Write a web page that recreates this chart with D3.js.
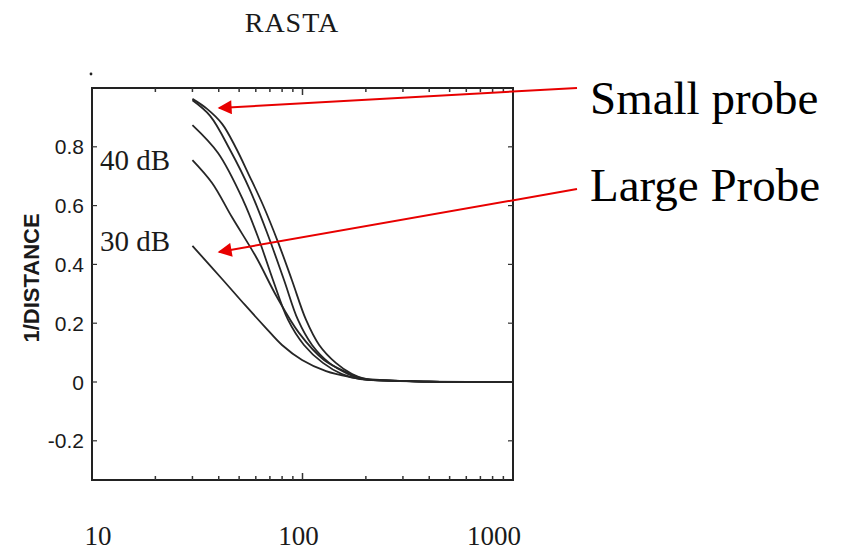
<!DOCTYPE html>
<html>
<head>
<meta charset="utf-8">
<script src="https://cdn.jsdelivr.net/npm/d3@7"></script>
<style>
  body { margin: 0; background: #fff; }
  svg { display: block; }
</style>
</head>
<body>
<div id="my_chart"></div>
<script>
// [frequency, 1/DISTANCE] points, one array per curve (top to bottom)
var curveA = [[30,0.963],[35.2,0.929],[41.5,0.878],[48.3,0.796],[55.7,0.704],[64.9,0.602],[76.5,0.476],[89,0.347],[104,0.211],[120,0.126],[144,0.065],[172,0.027],[200,0.010],[290,0.004],[400,0.001],[1000,0]];
var curveB = [[30,0.958],[36.4,0.905],[45.3,0.789],[56.3,0.653],[68.5,0.500],[81.7,0.347],[95.2,0.211],[111,0.126],[134,0.065],[165,0.027],[194,0.010],[290,0.004],[400,0.001],[1000,0]];
var curveC = [[30,0.874],[39.7,0.779],[52.2,0.619],[62.2,0.483],[72.4,0.347],[85.4,0.211],[101.6,0.126],[125,0.065],[154,0.027],[188,0.010],[290,0.004],[400,0.001],[1000,0]];
var curveD = [[30,0.755],[37.2,0.677],[46.2,0.561],[60.2,0.425],[75.6,0.289],[96.2,0.167],[126.5,0.075],[164.6,0.031],[188,0.014],[290,0.004],[400,0.001],[1000,0]];
var curveE = [[30,0.463],[41.9,0.347],[53.3,0.262],[66.4,0.187],[79.9,0.126],[99.5,0.075],[129.4,0.037],[168,0.017],[209,0.007],[290,0.003],[400,0.001],[1000,0]];

var yTicks = [-0.2, 0, 0.2, 0.4, 0.6, 0.8];
var yTickLabels = ["-0.2", "0", "0.2", "0.4", "0.6", "0.8"];
var xLabels = [10, 100, 1000];
var xMinor = [20, 30, 40, 50, 60, 70, 80, 90, 100, 200, 300, 400, 500, 600, 700, 800, 900];

var width = 842, height = 553;
var svg = d3.select("#my_chart").append("svg")
  .attr("width", width).attr("height", height);

var x = d3.scaleLog().domain([10, 1000]).range([92, 513]);
var y = d3.scaleLinear().domain([-1/3, 1]).range([480, 88]);

// title
svg.append("text").attr("x", 292).attr("y", 32).text("RASTA")
  .style("font-family", "Liberation Serif").style("font-size", "28px")
  .style("letter-spacing", "1px").attr("text-anchor", "middle").attr("fill", "#1a1a1a");

// stray dot top-left of the frame
svg.append("circle").attr("cx", 91).attr("cy", 74).attr("r", 1.4).attr("fill", "#222");

// frame
svg.append("rect").attr("x", x(10)).attr("y", y(1))
  .attr("width", x(1000) - x(10)).attr("height", y(-1/3) - y(1))
  .attr("fill", "none").attr("stroke", "#222").attr("stroke-width", 2);

// y ticks, inward on both sides
yTicks.forEach(function(t, i) {
  svg.append("line").attr("x1", x(10)).attr("x2", x(10) + 5).attr("y1", y(t)).attr("y2", y(t))
    .attr("stroke", "#333").attr("stroke-width", 1.2);
  svg.append("line").attr("x1", x(1000)).attr("x2", x(1000) - 5).attr("y1", y(t)).attr("y2", y(t))
    .attr("stroke", "#333").attr("stroke-width", 1.2);
  svg.append("text").attr("x", 84).attr("y", y(t)).text(yTickLabels[i])
    .attr("text-anchor", "end").attr("dominant-baseline", "central")
    .style("font-family", "Liberation Sans").style("font-size", "21px").attr("fill", "#1a1a1a");
});

// x ticks, inward top and bottom
xMinor.forEach(function(t) {
  var len = (t === 100) ? 7 : 4;
  svg.append("line").attr("x1", x(t)).attr("x2", x(t)).attr("y1", y(-1/3)).attr("y2", y(-1/3) - len)
    .attr("stroke", "#333").attr("stroke-width", 1.5);
  svg.append("line").attr("x1", x(t)).attr("x2", x(t)).attr("y1", y(1)).attr("y2", y(1) + len)
    .attr("stroke", "#333").attr("stroke-width", 1.5);
});

// x labels sit a little off their ticks in the original scan
var xLabelShift = {10: 6, 100: -4, 1000: -19};
xLabels.forEach(function(t) {
  svg.append("text").attr("x", x(t) + xLabelShift[t]).attr("y", 545).text(t)
    .attr("text-anchor", "middle")
    .style("font-family", "Liberation Serif").style("font-size", "27px").attr("fill", "#1a1a1a");
});

// y axis title
svg.append("text")
  .attr("transform", "translate(" + 39 + "," + 278 + ") rotate(-90)")
  .text("1/DISTANCE").attr("text-anchor", "middle")
  .style("font-family", "Liberation Sans").style("font-weight", "bold")
  .style("font-size", "22px").attr("fill", "#1a1a1a");

// curves
var line = d3.line()
  .x(function(d) { return x(d[0]); })
  .y(function(d) { return y(d[1]); })
  .curve(d3.curveCatmullRom.alpha(0.5));

[curveA, curveB, curveC, curveD, curveE].forEach(function(pts) {
  svg.append("path").datum(pts).attr("d", line)
    .attr("fill", "none").attr("stroke", "#262626").attr("stroke-width", 1.8);
});

// curve labels
svg.append("text").attr("x", 100).attr("y", 170).text("40 dB")
  .style("font-family", "Liberation Serif").style("font-size", "29px").attr("fill", "#1a1a1a");
svg.append("text").attr("x", 100).attr("y", 251).text("30 dB")
  .style("font-family", "Liberation Serif").style("font-size", "29px").attr("fill", "#1a1a1a");

// red annotation arrows
svg.append("defs").append("marker")
  .attr("id", "arrowHead").attr("viewBox", "0 0 10 10")
  .attr("refX", 9).attr("refY", 5)
  .attr("markerUnits", "userSpaceOnUse")
  .attr("markerWidth", 18).attr("markerHeight", 14)
  .attr("orient", "auto")
  .append("path").attr("d", "M0,0 L10,5 L0,10 Z").attr("fill", "#e80000");

svg.append("line").attr("x1", 577).attr("y1", 88).attr("x2", 219).attr("y2", 108)
  .attr("stroke", "#e80000").attr("stroke-width", 2).attr("marker-end", "url(#arrowHead)");
svg.append("line").attr("x1", 577).attr("y1", 189).attr("x2", 219).attr("y2", 252)
  .attr("stroke", "#e80000").attr("stroke-width", 2).attr("marker-end", "url(#arrowHead)");

svg.append("text").attr("x", 590).attr("y", 114).text("Small probe")
  .style("font-family", "Liberation Serif").style("font-size", "47px").attr("fill", "#000");
svg.append("text").attr("x", 590).attr("y", 201).text("Large Probe")
  .style("font-family", "Liberation Serif").style("font-size", "47px").attr("fill", "#000");
</script>
</body>
</html>
